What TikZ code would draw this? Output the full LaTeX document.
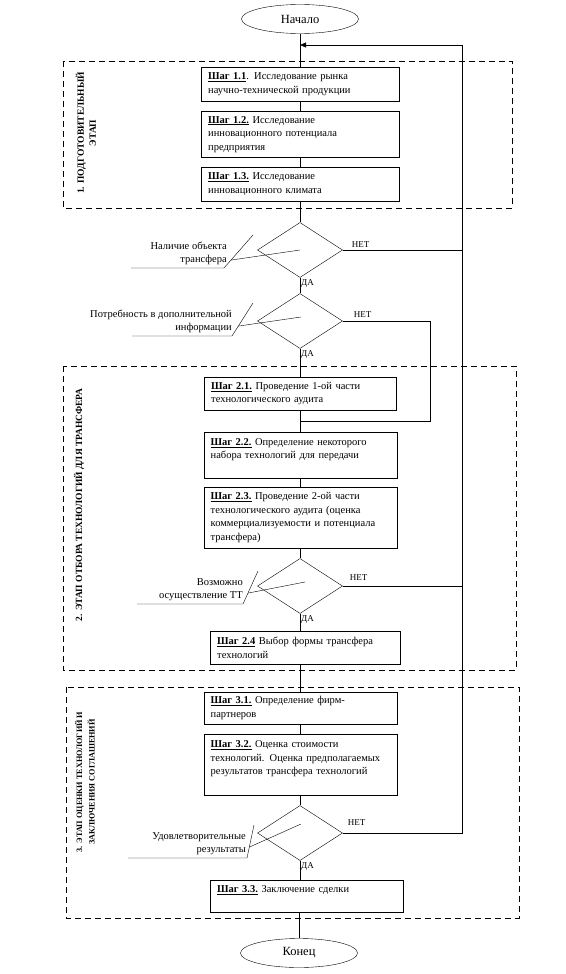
\documentclass[tikz,border=0pt]{standalone}
\usepackage{fontspec}
\setmainfont{Liberation Serif}
\usetikzlibrary{shapes.geometric,arrows.meta,calc}
\begin{document}
\begin{tikzpicture}[x=1pt,y=-1pt,
	stepbox/.style={draw,anchor=north west,align=left,inner xsep=7pt,inner ysep=3pt,text width=179pt,font=\fontsize{10.5}{13.5}\selectfont},
	check/.style={draw,diamond,minimum width=85pt,minimum height=55pt,inner sep=0pt},
	term/.style={draw,ellipse,minimum width=117pt,minimum height=29pt,inner sep=0pt,font=\fontsize{12.5}{14}\selectfont},
	stage/.style={rotate=90,align=center,inner sep=0pt,font=\bfseries\fontsize{9.5}{12}\selectfont},
	note/.style={align=right,inner sep=1pt,font=\fontsize{10.5}{13.5}\selectfont},
	lbl/.style={inner sep=1pt,font=\fontsize{9}{10}\selectfont},
	zone/.style={dash pattern=on 6pt off 4pt}]
	\useasboundingbox (0,0) rectangle (565,974);
	% stages
	\draw[zone] (63,61) rectangle (512,208);
	\draw[zone] (63,366) rectangle (516,670);
	\draw[zone] (66,687) rectangle (519,918);
	\node[stage] (e1) at (86,133) {1. ПОДГОТОВИТЕЛЬНЫЙ\\ЭТАП};
	\node[stage] (e2) at (79,505) {2. ЭТАП ОТБОРА ТЕХНОЛОГИЙ ДЛЯ ТРАНСФЕРА};
	\node[stage,font=\bfseries\fontsize{8.2}{12.5}\selectfont] (e3) at (85,782) {3. ЭТАП ОЦЕНКИ ТЕХНОЛОГИЙ И\\ЗАКЛЮЧЕНИЯ СОГЛАШЕНИЙ};
	% steps
	\node[term] (start) at (300,19) {Начало};
	\node[stepbox,text width=184pt,minimum height=34pt] (s11) at (201,67) {\underline{\textbf{Шаг 1.1}}. Исследование рынка\\научно-технической продукции};
	\node[stepbox,text width=184pt,minimum height=46pt] (s12) at (201,111) {\underline{\textbf{Шаг 1.2.}} Исследование\\инновационного потенциала\\предприятия};
	\node[stepbox,text width=184pt,minimum height=34pt] (s13) at (201,167) {\underline{\textbf{Шаг 1.3.}} Исследование\\инновационного климата};
	\node[check] (q1) at (300,250) {};
	\node[check] (q2) at (300,321) {};
	\node[stepbox,text width=178pt,minimum height=33pt] (s21) at (204,377) {\underline{\textbf{Шаг 2.1.}} Проведение 1-ой части\\технологического аудита};
	\node[stepbox,minimum height=46pt] (s22) at (203.5,432) {\underline{\textbf{Шаг 2.2.}} Определение некоторого\\набора технологий для передачи\\\mbox{}};
	\node[stepbox,minimum height=61pt] (s23) at (203.5,487) {\underline{\textbf{Шаг 2.3.}} Проведение 2-ой части\\технологического аудита (оценка\\коммерциализуемости и потенциала\\трансфера)};
	\node[check] (q3) at (300,586) {};
	\node[stepbox,text width=176pt,minimum height=33pt] (s24) at (210,631) {\underline{\textbf{Шаг 2.4}} Выбор формы трансфера\\технологий};
	\node[stepbox,minimum height=32pt] (s31) at (203.5,692) {\underline{\textbf{Шаг 3.1.}} Определение фирм-\\партнеров};
	\node[stepbox,minimum height=61pt] (s32) at (203.5,734) {\underline{\textbf{Шаг 3.2.}} Оценка стоимости\\технологий. Оценка предполагаемых\\результатов трансфера технологий\\\mbox{}};
	\node[check] (q4) at (300,833) {};
	\node[stepbox,minimum height=32pt] (s33) at (210,880) {\underline{\textbf{Шаг 3.3.}} Заключение сделки\\\mbox{}};
	\node[term] (finish) at (299,953) {Конец};
	% main line
	\draw (start.south) -- (start.south |- s11.north);
	\draw (s11.south) -- (s11.south |- s12.north);
	\draw (s12.south) -- (s12.south |- s13.north);
	\draw (s13.south) -- (s13.south |- q1.north);
	\draw (q1.south) -- (q2.north);
	\draw (q2.south) -- (q2.south |- s21.north);
	\draw (s21.south) -- (s21.south |- s22.north);
	\draw (s22.south) -- (s22.south |- s23.north);
	\draw (s23.south) -- (s23.south |- q3.north);
	\draw (q3.south) -- (q3.south |- s24.north);
	\draw (s31.north) -- (s31.north |- s24.south);
	\draw (s31.south) -- (s31.south |- s32.north);
	\draw (s32.south) -- (s32.south |- q4.north);
	\draw (q4.south) -- (q4.south |- s33.north);
	\draw (finish.north) -- (finish.north |- s33.south);
	% answers
	\node[lbl,anchor=north west] (y1) at ($(q1.south)+(0,1)$) {ДА};
	\node[lbl,anchor=north west] (y2) at ($(q2.south)+(0,1)$) {ДА};
	\node[lbl,anchor=north west] (y3) at ($(q3.south)+(0,1)$) {ДА};
	\node[lbl,anchor=north west] (y4) at ($(q4.south)+(0,1)$) {ДА};
	\node[lbl,anchor=south west] (n1) at ($(q1.east)+(8,-1)$) {НЕТ};
	\node[lbl,anchor=south west] (n2) at ($(q2.east)+(10,-2)$) {НЕТ};
	\node[lbl,anchor=south west] (n3) at ($(q3.east)+(6,-4)$) {НЕТ};
	\node[lbl,anchor=south west] (n4) at ($(q4.east)+(4,-6)$) {НЕТ};
	% returns
	\coordinate (ret) at (462,45);
	\coordinate (back) at (430,421);
	\draw[-{Triangle[length=6pt,width=5pt]}] (q4.east) -| (ret) -- (ret -| start);
	\draw (q1.east) -- (q1.east -| ret);
	\draw (q3.east) -- (q3.east -| ret);
	\draw (q2.east) -| (back) -- (back -| start);
	% notes
	\node[note,anchor=south east] (t1) at (228,266) {Наличие объекта\\трансфера};
	\draw (131,268) coordinate (u1) -- (224,268) coordinate (b1) -- (253,235);
	\draw ($(b1)!0.24!(253,235)$) -- (q1.center);
	\node[note,anchor=south east] (t2) at (233,334) {Потребность в дополнительной\\информации};
	\draw (132,336) coordinate (u2) -- (232,336) coordinate (b2) -- (253,303);
	\draw ($(b2)!0.3!(253,303)$) -- ($(q2.center)+(1,-4)$);
	\node[note,anchor=south east] (t3) at (244,602) {Возможно\\осуществление ТТ};
	\draw (137,604) coordinate (u3) -- (243,604) coordinate (b3) -- (258,571);
	\draw ($(b3)!0.33!(258,571)$) -- ($(q3.center)+(5,-4)$);
	\node[note,anchor=south east] (t4) at (247,856) {Удовлетворительные\\результаты};
	\draw (128,858) coordinate (u4) -- (247,858) coordinate (b4) -- (254,825);
	\draw ($(b4)!0.33!(254,825)$) -- ($(q4.center)+(1,-9)$);
\end{tikzpicture}
\end{document}
